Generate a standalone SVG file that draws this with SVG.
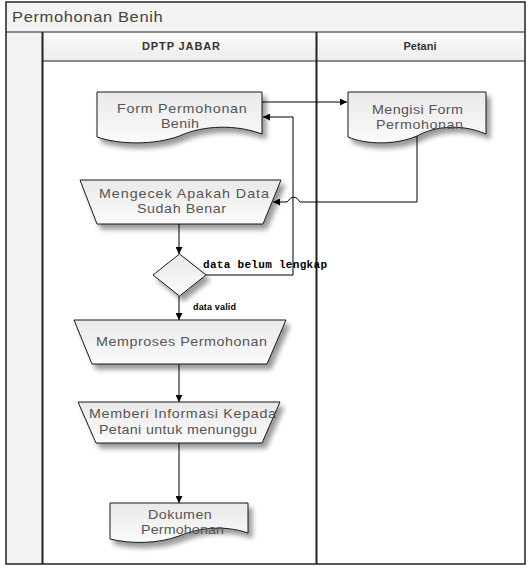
<svg xmlns="http://www.w3.org/2000/svg" width="530" height="569" viewBox="0 0 530 569">
<defs>
  <linearGradient id="gShape" x1="0" y1="0" x2="0" y2="1">
    <stop offset="0" stop-color="#e9e9e9"/>
    <stop offset="1" stop-color="#fbfbfb"/>
  </linearGradient>
  <linearGradient id="gHead" x1="0" y1="0" x2="0" y2="1">
    <stop offset="0" stop-color="#fbfbfb"/>
    <stop offset="1" stop-color="#ececec"/>
  </linearGradient>
  <filter id="shadow" x="-20%" y="-20%" width="150%" height="160%">
    <feGaussianBlur in="SourceAlpha" stdDeviation="2.5"/>
    <feOffset dx="4" dy="5" result="b"/>
    <feComponentTransfer><feFuncA type="linear" slope="0.4"/></feComponentTransfer>
    <feMerge><feMergeNode/><feMergeNode in="SourceGraphic"/></feMerge>
  </filter>
  <marker id="arr" viewBox="0 0 10 10" refX="10" refY="5" markerWidth="7" markerHeight="7" markerUnits="userSpaceOnUse" orient="auto">
    <path d="M0,0 L10,5 L0,10 Z" fill="#000"/>
  </marker>
  <style>
    .shape{fill:url(#gShape);stroke:#1a1a1a;stroke-width:1;filter:url(#shadow)}
    .t{font-family:"Liberation Sans",Arial,sans-serif;font-size:13px;fill:#555555}
    .h{font-family:"Liberation Sans",Arial,sans-serif;font-size:11px;font-weight:bold;fill:#333333}
    .conn{fill:none;stroke:#000;stroke-width:1}
    .lbl{font-family:"Liberation Sans",Arial,sans-serif;font-size:9px;font-weight:bold;fill:#000}
    .mono{font-family:"Liberation Mono","Courier New",monospace;font-size:11px;font-weight:bold;fill:#000}
  </style>
</defs>

<g id="pool">
  <rect x="6" y="2" width="519" height="562" fill="#ffffff"/>
  <rect x="6" y="2" width="519" height="30" fill="#f3f3f3"/>
  <rect x="6" y="32" width="36" height="532" fill="#f2f2f2"/>
  <rect x="42" y="32" width="483" height="29" fill="url(#gHead)"/>
  <line x1="6" y1="32" x2="525" y2="32" stroke="#222" stroke-width="1"/>
  <line x1="42" y1="61" x2="525" y2="61" stroke="#222" stroke-width="1"/>
  <line x1="42.5" y1="32" x2="42.5" y2="564" stroke="#222" stroke-width="2"/>
  <line x1="316.5" y1="32" x2="316.5" y2="564" stroke="#222" stroke-width="2"/>
  <rect x="6" y="2" width="519" height="562" fill="none" stroke="#222" stroke-width="1.5"/>
  <text class="t" style="font-size:15px;fill:#444" transform="translate(12 22) scale(1.1 1)" textLength="137" lengthAdjust="spacing">Permohonan Benih</text>
</g>

<g id="lane-dptp">
  <text x="142" y="50" class="h" textLength="78" lengthAdjust="spacing">DPTP JABAR</text>
</g>
<g id="lane-petani">
  <text x="420" y="50" class="h" text-anchor="middle">Petani</text>
</g>

<g id="connectors">
  <path class="conn" d="M262,102 H347" marker-end="url(#arr)"/>
  <path class="conn" d="M417,136 V202 H300 Q294,192 287,202 H273" marker-end="url(#arr)"/>
  <path class="conn" d="M179,224 V254" marker-end="url(#arr)"/>
  <path class="conn" d="M206,275 H293 V117 H263" marker-end="url(#arr)"/>
  <path class="conn" d="M179,296 V320" marker-end="url(#arr)"/>
  <path class="conn" d="M179,364 V402" marker-end="url(#arr)"/>
  <path class="conn" d="M179,443 V503" marker-end="url(#arr)"/>
  <text x="203" y="268" class="mono" textLength="124" lengthAdjust="spacing">data belum lengkap</text>
  <text x="193" y="310" class="lbl" textLength="43" lengthAdjust="spacing">data valid</text>
</g>

<g id="node-form">
  <path class="shape" d="M97,92 H262 V134 C229,122 196,128 179.5,136 C155,145 120,145 97,137 Z"/>
  <text class="t" transform="translate(117 113) scale(1.1 1)" textLength="118" lengthAdjust="spacing">Form Permohonan</text>
  <text class="t" transform="translate(161 128) scale(1.1 1)" textLength="34.5" lengthAdjust="spacing">Benih</text>
</g>

<g id="node-mengisi">
  <path class="shape" d="M348,92 H486 V134 C458,122 431,128 417,136 C396,145 367,145 348,137 Z"/>
  <text class="t" transform="translate(372 114) scale(1.1 1)" textLength="82.7" lengthAdjust="spacing">Mengisi Form</text>
  <text class="t" transform="translate(376 129) scale(1.1 1)" textLength="79" lengthAdjust="spacing">Permohonan</text>
</g>

<g id="node-mengecek">
  <path class="shape" d="M80,180 H281 L263,224 H97 Z"/>
  <text class="t" transform="translate(99 198) scale(1.1 1)" textLength="154.5" lengthAdjust="spacing">Mengecek Apakah Data</text>
  <text class="t" transform="translate(137 213) scale(1.1 1)" textLength="81" lengthAdjust="spacing">Sudah Benar</text>
</g>

<g id="node-decision">
  <path class="shape" d="M179.5,254 L206,275 L179.5,296 L153,275 Z"/>
</g>

<g id="node-memproses">
  <path class="shape" d="M74,320 H286 L267,364 H92 Z"/>
  <text class="t" transform="translate(96 346) scale(1.1 1)" textLength="155.5" lengthAdjust="spacing">Memproses Permohonan</text>
</g>

<g id="node-memberi">
  <path class="shape" d="M78,402 H280 L262,443 H96 Z"/>
  <text class="t" transform="translate(89 418) scale(1.1 1)" textLength="170" lengthAdjust="spacing">Memberi Informasi Kepada</text>
  <text class="t" transform="translate(99 434) scale(1.1 1)" textLength="143.6" lengthAdjust="spacing">Petani untuk menunggu</text>
</g>

<g id="node-dokumen">
  <path class="shape" d="M110,503 H248 V533 C222,524 196,529 179,536 C158,544 130,544 110,539 Z"/>
  <text class="t" transform="translate(148 519) scale(1.1 1)" textLength="58" lengthAdjust="spacing">Dokumen</text>
  <text class="t" transform="translate(141 534) scale(1.1 1)" textLength="75.5" lengthAdjust="spacing">Permohonan</text>
</g>
</svg>
